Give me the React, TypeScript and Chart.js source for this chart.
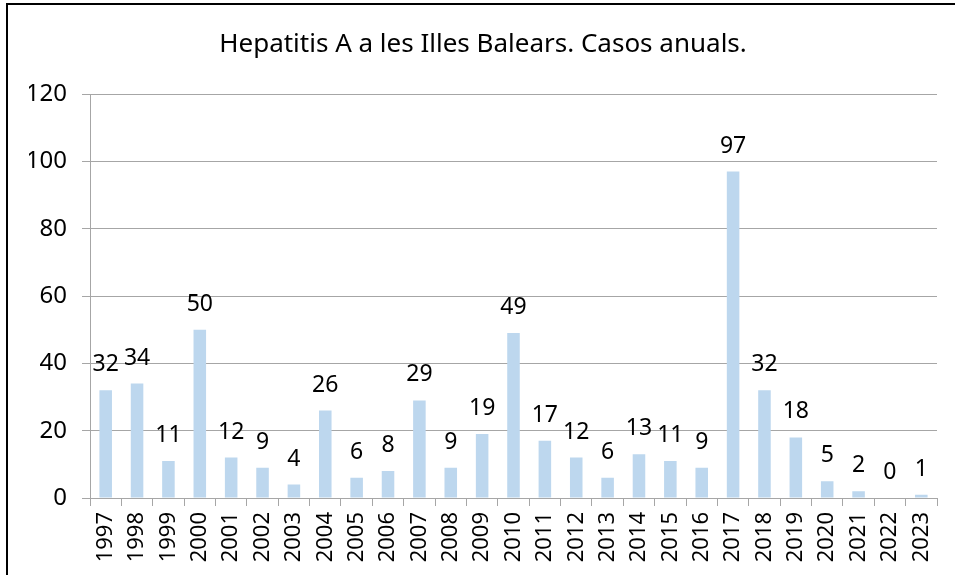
import React, { useEffect, useRef } from "react";
import { Chart, registerables } from "chart.js";

Chart.register(...registerables);

const years = ["1997","1998","1999","2000","2001","2002","2003","2004","2005","2006","2007","2008","2009","2010","2011","2012","2013","2014","2015","2016","2017","2018","2019","2020","2021","2022","2023"];
const cases = [32,34,11,50,12,9,4,26,6,8,29,9,19,49,17,12,6,13,11,9,97,32,18,5,2,0,1];
const yTicks = [0, 20, 40, 60, 80, 100, 120];
const titleText = "Hepatitis A a les Illes Balears. Casos anuals.";

const FONT = "'Noto Sans', 'Open Sans', sans-serif";

const frame = {
  id: "frame",
  beforeDraw(chart: any) {
    const ctx = chart.ctx;
    ctx.save();
    ctx.fillStyle = "#ffffff";
    ctx.fillRect(0, 0, chart.width, chart.height);
    ctx.strokeStyle = "#000000";
    ctx.lineWidth = 2;
    ctx.beginPath();
    ctx.moveTo(7, chart.height);
    ctx.lineTo(7, 4);
    ctx.lineTo(chart.width, 4);
    ctx.stroke();
    ctx.restore();
  },
};

const valueLabels = {
  id: "valueLabels",
  afterDatasetsDraw(chart: any) {
    const ctx = chart.ctx;
    const meta = chart.getDatasetMeta(0);
    ctx.save();
    ctx.font = `23px ${FONT}`;
    ctx.fillStyle = "#000000";
    ctx.textAlign = "center";
    ctx.textBaseline = "alphabetic";
    meta.data.forEach((bar: any, i: number) => {
      ctx.fillText(String(cases[i]), bar.x, bar.y - 19);
    });
    ctx.restore();
  },
};

export default function App() {
  const ref = useRef<HTMLCanvasElement>(null);
  useEffect(() => {
    if (!ref.current) return;
    const chart = new Chart(ref.current, {
      type: "bar",
      data: {
        labels: years,
        datasets: [
          {
            data: cases,
            backgroundColor: "#BDD7EE",
            barPercentage: 0.4,
            categoryPercentage: 1,
          },
        ],
      },
      options: {
        animation: false,
        responsive: false,
        devicePixelRatio: 1,
        layout: { padding: { left: 29, right: 18, top: 0, bottom: 0 } },
        plugins: {
          legend: { display: false },
          tooltip: { enabled: false },
          title: {
            display: true,
            text: titleText,
            color: "#000000",
            font: { family: FONT, size: 26, weight: "normal" as any, lineHeight: 1.2 },
            padding: { top: 29, bottom: 34 },
          },
        },
        scales: {
          x: {
            grid: {
              offset: true,
              drawOnChartArea: false,
              color: "#A6A6A6",
              tickLength: 8,
            },
            border: { color: "#A6A6A6" },
            ticks: {
              color: "#000000",
              font: { family: FONT, size: 22 },
              maxRotation: 90,
              minRotation: 90,
              autoSkip: false,
              padding: 6,
            },
            afterFit(scale: any) {
              scale.height = 77;
            },
          },
          y: {
            min: 0,
            max: 120,
            afterBuildTicks(scale: any) {
              scale.ticks = yTicks.map((v) => ({ value: v }));
            },
            grid: {
              color: "#A6A6A6",
              tickLength: 8,
            },
            border: { color: "#A6A6A6" },
            ticks: {
              color: "#000000",
              font: { family: FONT, size: 24 },
              padding: 15,
            },
            afterFit(scale: any) {
              scale.width = 61;
            },
          },
        },
      },
      plugins: [frame, valueLabels],
    });
    return () => chart.destroy();
  }, []);
  return (
    <canvas
      ref={ref}
      width={955}
      height={575}
      style={{ position: "fixed", left: 0, top: 0, width: 955, height: 575 }}
    />
  );
}
